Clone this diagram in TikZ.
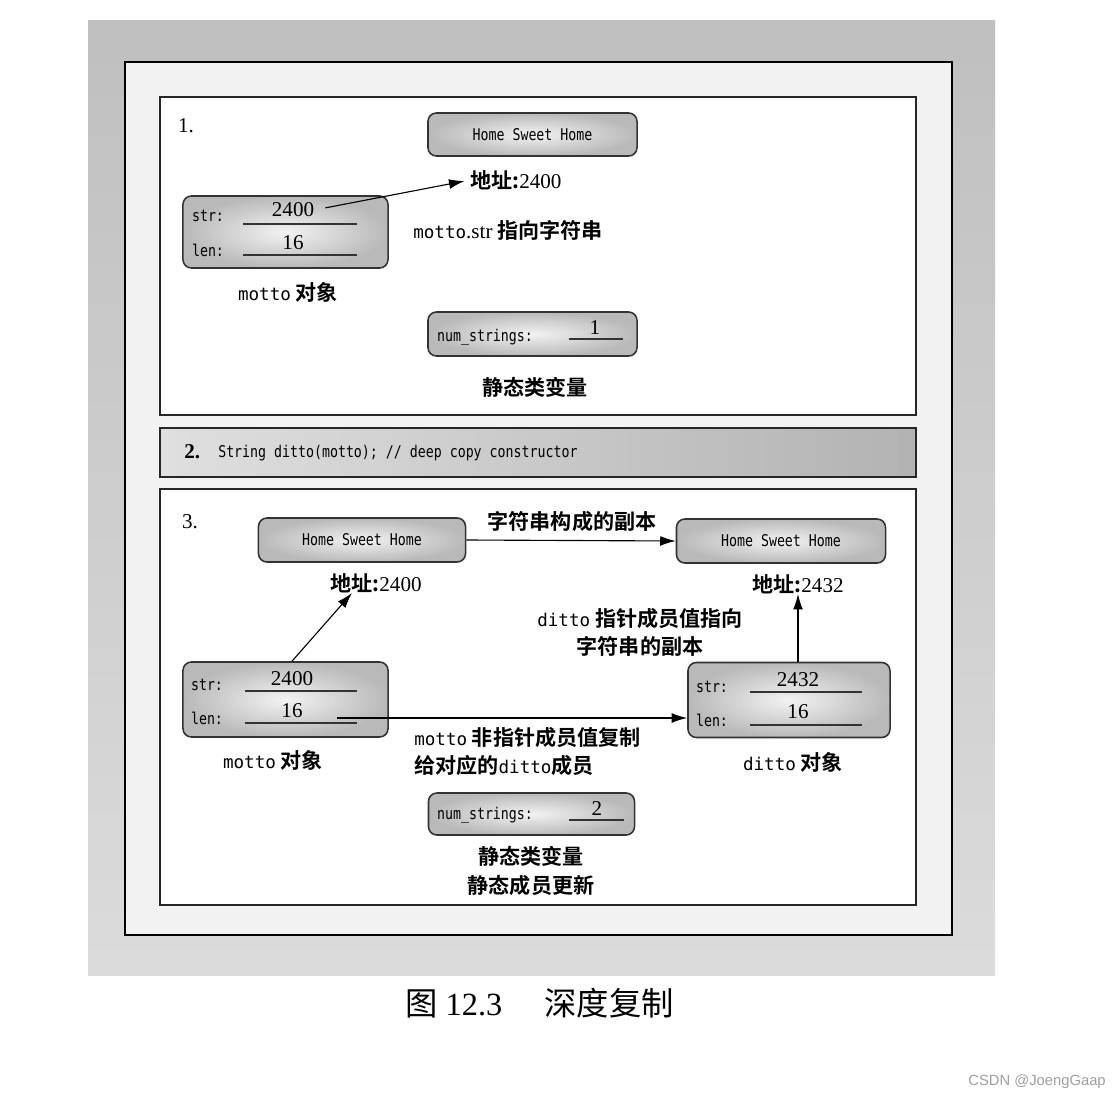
\documentclass[tikz,border=0pt]{standalone}
\usepackage{fontspec}
\setmainfont{Liberation Serif}
\newfontfamily\cjk{Noto Sans CJK SC}[BoldFont=Noto Sans CJK SC Bold]
\newfontfamily\codefont{DejaVu Sans Mono}[FakeStretch=0.82]
\newfontfamily\labelmono{DejaVu Sans Mono}
\newfontfamily\wmfont{Liberation Sans}
\usepackage{tikz}
\usetikzlibrary{positioning}
\usetikzlibrary{arrows.meta}
\newcommand{\mtt}[1]{{\labelmono\mdseries\fontsize{12.5}{14}\selectfont #1}}

\begin{document}
\begin{tikzpicture}[x=0.025cm, y=-0.025cm,
  membox/.style={draw=black!80, line width=1.1pt, rounded corners=6pt,
    inner color=gray!10, outer color=gray!55, inner sep=0pt,
    font=\codefont\fontsize{11.5}{13}\selectfont},
  code/.style={inner sep=0pt, font=\codefont\fontsize{11.5}{13}\selectfont},
  num/.style={inner sep=0pt, font=\rmfamily\fontsize{15}{18}\selectfont},
  lbl/.style={inner sep=0pt, align=center, font=\cjk\bfseries\fontsize{15}{20}\selectfont},
  field/.style={black!80, line width=0.8pt},
  ptr/.style={-{Latex[length=11pt, width=7pt]}, line width=0.8pt},
  panel/.style={draw=black!85, line width=1pt, fill=white},
]

\useasboundingbox (0,0) rectangle (1120,1099);

%background band and frame
\fill[top color=gray!50, bottom color=gray!28] (88,20) rectangle (995,975);
\draw[fill=gray!10, line width=1.3pt] (125,62) rectangle (952,935);

%panels
\draw[panel] (160,97) rectangle (916,415);
\draw[draw=black!85, line width=1pt, left color=gray!25, right color=gray!60] (160,428) rectangle (916,477);
\draw[panel] (160,489) rectangle (916,905);

%%%%%%%  Step 1: motto and its string %%%%%%%
\begin{scope}
\node[num] (n1) at (186,126) {1.};

\node[membox, minimum width=5.225cm, minimum height=1.075cm] (hsh1) at (532.5,134.5) {Home Sweet Home};
\node[lbl, anchor=west] (addr1) at (470,180) {地址:{\rmfamily\mdseries 2400}};

%motto object
\node[membox, minimum width=5.125cm, minimum height=1.8cm] (m1) at (285.5,232) {};
\node[code] (m1sl) at (208,216) {str:};
\node[code] (m1ll) at (208,250) {len:};
\node[num] (m1s) at (293,210) {2400};
\node[num] (m1l) at (293,243) {16};
\draw[field] (243,224) -- (357,224);
\draw[field] (243,255) -- (357,255);
\node[lbl] (m1name) at (288,292) {\mtt{motto} 对象};
\node[lbl, anchor=west] (m1note) at (413,230) {\mtt{motto}{\rmfamily\mdseries .str} 指向字符串};

\draw[ptr, shorten <=8pt, shorten >=4pt] (m1s.east) -- (addr1.west);

%static member
\node[membox, minimum width=5.225cm, minimum height=1.1cm] (ns1) at (532.5,334) {};
\node[code] (ns1l) at (485,337) {num\_strings:};
\node[num] (ns1v) at (595,328) {1};
\draw[field] (569,339) -- (623,339);
\node[lbl] (static1) at (535,387) {静态类变量};
\end{scope}

%%%%%%%  Step 2: the call %%%%%%%
\node[num, font=\rmfamily\bfseries\fontsize{15}{18}\selectfont, anchor=west] (n2) at (184,452) {2.};
\node[code, anchor=west] (ctor) at (218,453) {String ditto(motto); // deep copy constructor};

%%%%%%%  Step 3: deep copy %%%%%%%
\begin{scope}
\node[num] (n3) at (190,522) {3.};

%strings
\node[membox, minimum width=5.175cm, minimum height=1.1cm] (hsh3a) at (362,540) {Home Sweet Home};
\node[membox, minimum width=5.225cm, minimum height=1.1cm] (hsh3b) at (781,541) {Home Sweet Home};
\node[lbl] (copy) at (572,522) {字符串构成的副本};
\draw[ptr] (hsh3a.east) -- (hsh3b.west);
\node[lbl] (addr3a) at (376,583) {地址:{\rmfamily\mdseries 2400}};
\node[lbl] (addr3b) at (798,584) {地址:{\rmfamily\mdseries 2432}};

%motto object
\node[membox, minimum width=5.125cm, minimum height=1.875cm] (m3) at (285.5,699.5) {};
\node[code] (m3sl) at (207,685) {str:};
\node[code] (m3ll) at (207,718) {len:};
\node[num] (m3s) at (292,679) {2400};
\node[num] (m3l) at (292,711) {16};
\draw[field] (245,691) -- (357,691);
\draw[field] (245,723) -- (357,723);
\node[lbl] (m3name) at (273,760) {\mtt{motto} 对象};

%ditto object
\node[membox, minimum width=5.05cm, minimum height=1.875cm] (d3) at (789,700) {};
\node[code] (d3sl) at (712,687) {str:};
\node[code] (d3ll) at (712,720) {len:};
\node[num] (d3s) at (798,680) {2432};
\node[num] (d3l) at (798,712) {16};
\draw[field] (750,692) -- (862,692);
\draw[field] (750,725) -- (862,725);
\node[lbl] (d3name) at (793,762) {\mtt{ditto} 对象};

%pointers
\draw[ptr] (m3.north -| m3s.north) -- ([xshift=-0.6cm]addr3a.south);
\draw[ptr] (d3.north -| addr3b.south) -- (addr3b.south);
\node[lbl] (dnote) at (640,632) {\mtt{ditto} 指针成员值指向\\字符串的副本};

%plain members
\coordinate (m3lend) at (337,718);
\draw[ptr] (m3lend) -- (m3lend -| d3.west);
\node[lbl, anchor=north west, align=left] (mnote) at (414,727) {\mtt{motto} 非指针成员值复制\\给对应的\mtt{ditto}成员};

%static member
\node[membox, minimum width=5.15cm, minimum height=1.05cm] (ns3) at (531.5,814) {};
\node[code] (ns3l) at (485,815) {num\_strings:};
\node[num] (ns3v) at (597,809) {2};
\draw[field] (569,820) -- (624,820);
\node[lbl] (static3) at (531,871) {静态类变量\\静态成员更新};
\end{scope}

%caption
\node[anchor=west, inner sep=0pt, font=\rmfamily\fontsize{23}{26}\selectfont] (cap) at (405,1003) {{\cjk 图} 12.3\hspace{1.3em}{\cjk 深度复制}};
\node[anchor=east, inner sep=0pt, text=gray!75, font=\wmfont\fontsize{10.5}{12}\selectfont] (wm) at (1106,1082) {CSDN @JoengGaap};

\end{tikzpicture}
\end{document}
